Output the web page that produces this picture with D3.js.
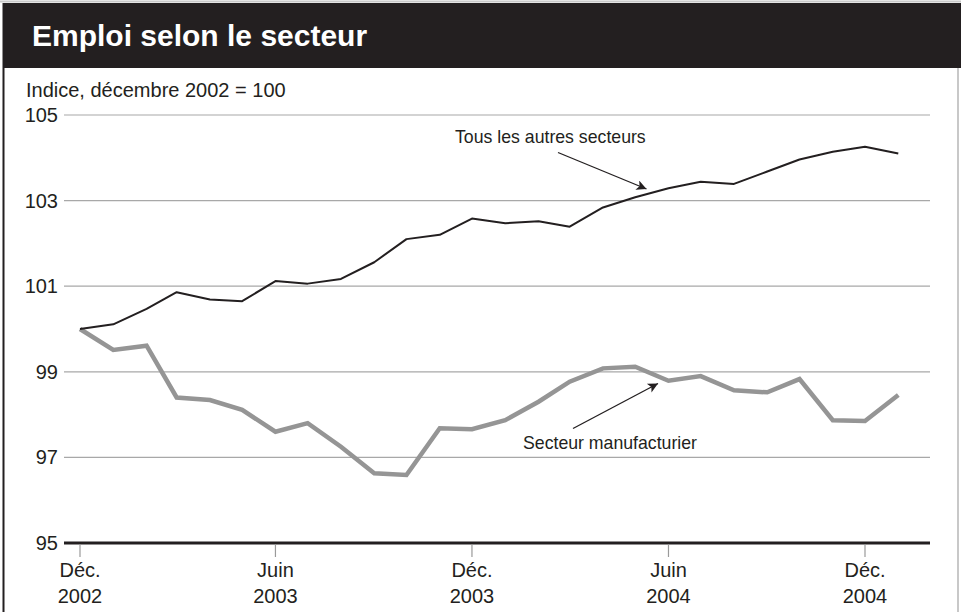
<!DOCTYPE html>
<html lang="fr">
<head>
<meta charset="utf-8">
<title>Emploi selon le secteur</title>
<script src="https://cdn.jsdelivr.net/npm/d3@7"></script>
<style>
  html, body { margin: 0; padding: 0; background: #fff; }
  svg { display: block; font-family: "Liberation Sans", Arial, Helvetica, sans-serif; }
</style>
</head>
<body>
<svg id="chart" width="961" height="612"></svg>
<script>
// Mois de décembre 2002 à janvier 2005
const months = d3.range(26).map(i => new Date(2002, 11 + i, 1));

// Indice, décembre 2002 = 100
const autresSecteurs = [
  100.0, 100.11, 100.47, 100.86, 100.69, 100.65, 101.12, 101.06, 101.17, 101.56,
  102.10, 102.20, 102.58, 102.47, 102.52, 102.39, 102.84, 103.08, 103.29, 103.44,
  103.39, 103.68, 103.96, 104.14, 104.26, 104.10
];
const manufacturier = [
  100.0, 99.51, 99.61, 98.40, 98.34, 98.11, 97.60, 97.80, 97.25, 96.63,
  96.59, 97.68, 97.66, 97.87, 98.30, 98.77, 99.08, 99.12, 98.79, 98.90,
  98.57, 98.52, 98.83, 97.87, 97.85, 98.46
];

const yTicks = [95, 97, 99, 101, 103, 105];
const xTickDates = [new Date(2002, 11, 1), new Date(2003, 5, 1), new Date(2003, 11, 1),
                    new Date(2004, 5, 1), new Date(2004, 11, 1)];
const xTickMonths = ["Déc.", "Juin", "Déc.", "Juin", "Déc."];
const xTickYears = ["2002", "2003", "2003", "2004", "2004"];

const title = "Emploi selon le secteur";
const yTitle = "Indice, décembre 2002 = 100";
const labelAutres = "Tous les autres secteurs";
const labelManuf = "Secteur manufacturier";

const svg = d3.select("#chart");
const W = 961, H = 612;

// Cadre
svg.append("rect").attr("x", 0).attr("y", 0).attr("width", W).attr("height", H).attr("fill", "#fff");
svg.append("line").attr("x1", 0).attr("x2", W).attr("y1", 1.5).attr("y2", 1.5)
  .attr("stroke", "#c8c8c8").attr("stroke-width", 2);
svg.append("rect").attr("x", 3).attr("y", 3).attr("width", W - 3).attr("height", 65).attr("fill", "#231f20");
svg.append("line").attr("x1", 3.5).attr("x2", 3.5).attr("y1", 3).attr("y2", H)
  .attr("stroke", "#231f20").attr("stroke-width", 2);
svg.append("line").attr("x1", 958).attr("x2", 958).attr("y1", 68).attr("y2", H)
  .attr("stroke", "#c8c8c8").attr("stroke-width", 2);

svg.append("text").attr("x", 32).attr("y", 46)
  .attr("fill", "#fff").attr("font-size", 30).attr("font-weight", "bold")
  .text(title);

// Échelles
const x = d3.scaleTime()
  .domain([new Date(2002, 11, 1), new Date(2004, 11, 1)])
  .range([80, 865]);
const y = d3.scaleLinear().domain([95, 105]).range([543, 115]);
const plotLeft = 64, plotRight = 930;

// Grille horizontale et étiquettes de l'axe Y
const gY = svg.append("g");
gY.selectAll("line.grid").data(yTicks.filter(d => d !== 95)).join("line")
  .attr("class", "grid")
  .attr("x1", plotLeft).attr("x2", plotRight)
  .attr("y1", d => y(d)).attr("y2", d => y(d))
  .attr("stroke", "#a8a8a8").attr("stroke-width", 1.2);
gY.selectAll("text").data(yTicks).join("text")
  .attr("x", 58).attr("y", d => y(d) + 7)
  .attr("text-anchor", "end").attr("font-size", 20).attr("fill", "#231f20")
  .text(d => d);

svg.append("text").attr("x", 26).attr("y", 97)
  .attr("font-size", 20).attr("fill", "#231f20").text(yTitle);

// Séries
const line = d3.line().x((d, i) => x(months[i])).y(d => y(d));

svg.append("path").datum(manufacturier)
  .attr("d", line).attr("fill", "none")
  .attr("stroke", "#959595").attr("stroke-width", 4.5)
  .attr("stroke-linejoin", "miter");

svg.append("path").datum(autresSecteurs)
  .attr("d", line).attr("fill", "none")
  .attr("stroke", "#231f20").attr("stroke-width", 2)
  .attr("stroke-linejoin", "round");

// Axe X
svg.append("line").attr("x1", plotLeft).attr("x2", plotRight)
  .attr("y1", y(95)).attr("y2", y(95))
  .attr("stroke", "#231f20").attr("stroke-width", 3);

const gX = svg.append("g");
gX.selectAll("line").data(xTickDates).join("line")
  .attr("x1", d => x(d)).attr("x2", d => x(d))
  .attr("y1", y(95) + 1.5).attr("y2", y(95) + 14)
  .attr("stroke", "#9a9a9a").attr("stroke-width", 1.2);
gX.selectAll("text.m").data(xTickDates).join("text")
  .attr("class", "m")
  .attr("x", d => x(d)).attr("y", 577)
  .attr("text-anchor", "middle").attr("font-size", 20).attr("fill", "#231f20")
  .text((d, i) => xTickMonths[i]);
gX.selectAll("text.yr").data(xTickDates).join("text")
  .attr("class", "yr")
  .attr("x", d => x(d)).attr("y", 603)
  .attr("text-anchor", "middle").attr("font-size", 20).attr("fill", "#231f20")
  .text((d, i) => xTickYears[i]);

// Annotations avec flèches
const defs = svg.append("defs");
defs.append("marker").attr("id", "arrow")
  .attr("viewBox", "0 0 10 10").attr("refX", 10).attr("refY", 5)
  .attr("markerWidth", 14).attr("markerHeight", 10)
  .attr("markerUnits", "userSpaceOnUse")
  .attr("orient", "auto")
  .append("path").attr("d", "M0,0 L10,5 L0,10 L2.5,5 Z").attr("fill", "#231f20");

function annotate(text, tx, ty, x1, y1, x2, y2) {
  svg.append("text").attr("x", tx).attr("y", ty)
    .attr("font-size", 17.7).attr("fill", "#231f20").text(text);
  svg.append("line")
    .attr("x1", x1).attr("y1", y1).attr("x2", x2).attr("y2", y2)
    .attr("stroke", "#231f20").attr("stroke-width", 1.3)
    .attr("marker-end", "url(#arrow)");
}

annotate(labelAutres, 455, 143, 558, 152.5, 646.5, 189);
annotate(labelManuf, 523, 449, 573, 428.5, 658, 383.5);
</script>
</body>
</html>
